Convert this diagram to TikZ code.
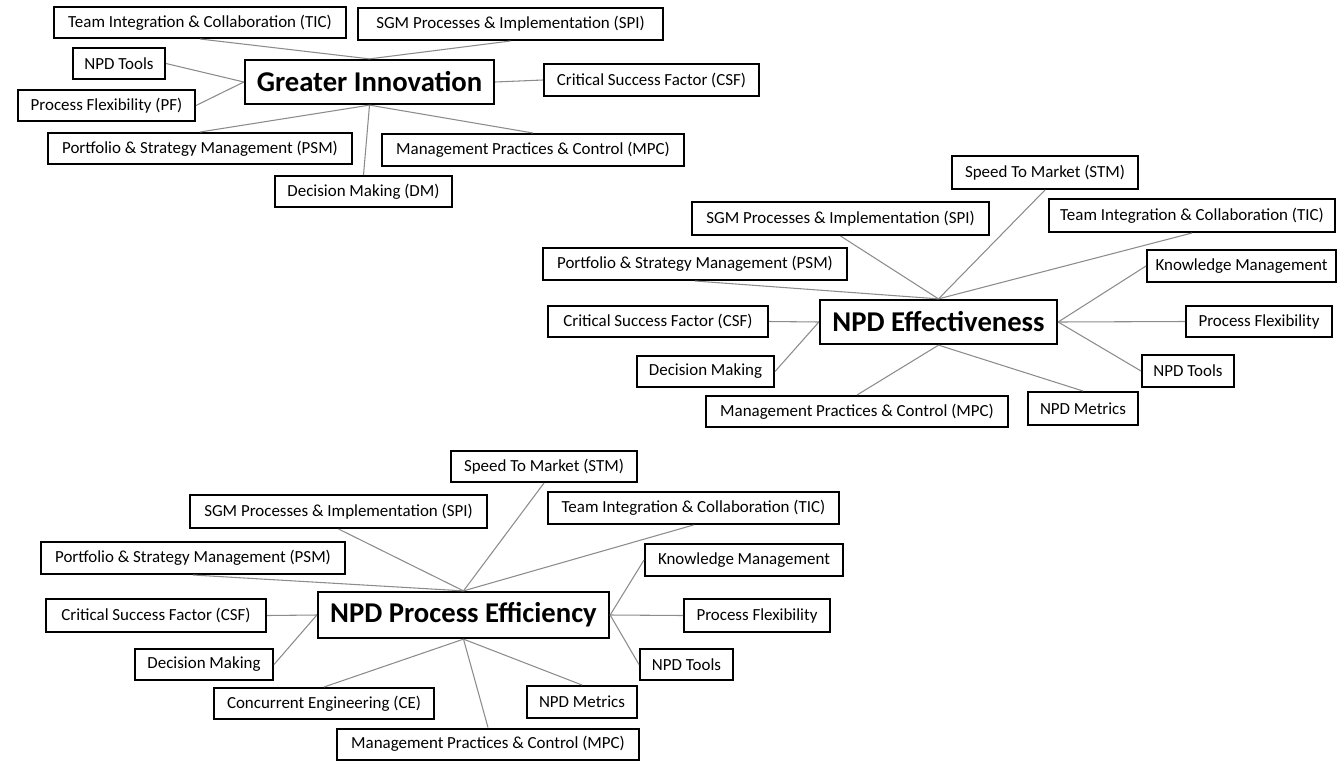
\documentclass[tikz,border=0pt]{standalone}
\usepackage{fontspec}
\setmainfont{Carlito}
\usetikzlibrary{positioning}

\begin{document}
\begin{tikzpicture}[
  x=0.75pt, y=-0.75pt,
  box/.style={draw, line width=1.5pt, inner sep=0pt, align=center,
              font=\fontsize{12.7}{14}\selectfont},
  hub/.style={box, line width=1.7pt, font=\fontsize{21.5}{24}\selectfont\bfseries},
  sz/.style 2 args={minimum width=#1*0.75pt, minimum height=#2*0.75pt},
  link/.style={draw=black!45, line width=0.8pt}
]
\useasboundingbox (0,0) rectangle (1337,760);

% Greater Innovation
\node[hub,sz={249}{44}] (gi)    at (369.5,82)  {Greater Innovation};
\node[box,sz={292}{31}] (tic1)  at (200,22.5)  {Team Integration \& Collaboration (TIC)};
\node[box,sz={305}{32}] (spi1)  at (510.5,24)  {SGM Processes \& Implementation (SPI)};
\node[box,sz={92}{31}]  (tool1) at (119,63.5)  {NPD Tools};
\node[box,sz={177}{31}] (pf1)   at (106.5,105.5) {Process Flexibility (PF)};
\node[box,sz={215}{32}] (csf1)  at (651.5,80)  {Critical Success Factor (CSF)};
\node[box,sz={304}{31}] (psm1)  at (200,148.5) {Portfolio \& Strategy Management (PSM)};
\node[box,sz={302}{32}] (mpc1)  at (533,150)   {Management Practices \& Control (MPC)};
\node[box,sz={177}{31}] (dm1)   at (363.5,191.5) {Decision Making (DM)};
\draw[link](tic1.south)--(gi.north);\draw[link](spi1.south)--(gi.north);
\draw[link](tool1.east)--(gi.west);\draw[link](pf1.east)--(gi.west);
\draw[link](gi.east)--(csf1.west);\draw[link](psm1.north)--(gi.south);
\draw[link](dm1.north)--(gi.south);\draw[link](mpc1.north)--(gi.south);

% NPD Effectiveness
\node[hub,sz={237}{44}] (eff)   at (938.5,322) {NPD Effectiveness};
\node[box,sz={186}{33}] (stm2)  at (1045,172.5) {Speed To Market (STM)};
\node[box,sz={297}{33}] (spi2)  at (840.5,218.5) {SGM Processes \& Implementation (SPI)};
\node[box,sz={286}{33}] (tic2)  at (1192,215.5) {Team Integration \& Collaboration (TIC)};
\node[box,sz={304}{32}] (psm2)  at (695,264)   {Portfolio \& Strategy Management (PSM)};
\node[box,sz={189}{32}] (km2)   at (1241.5,266) {Knowledge Management};
\node[box,sz={220}{31}] (csf2)  at (658,321.5) {Critical Success Factor (CSF)};
\node[box,sz={146}{31}] (pf2)   at (1259,321.5) {Process Flexibility};
\node[box,sz={137}{31}] (dm2)   at (705.5,371.5) {Decision Making};
\node[box,sz={92}{32}]  (tool2) at (1188,371)  {NPD Tools};
\node[box,sz={302}{31}] (mpc2)  at (857,411.5) {Management Practices \& Control (MPC)};
\node[box,sz={110}{33}] (met2)  at (1083,408.5) {NPD Metrics};
\draw[link](stm2.south)--(eff.north);\draw[link](spi2.south)--(eff.north);
\draw[link](tic2.south)--(eff.north);\draw[link](psm2.south)--(eff.north);
\draw[link](km2.west)--(eff.east);\draw[link](pf2.west)--(eff.east);
\draw[link](tool2.west)--(eff.east);\draw[link](csf2.east)--(eff.west);
\draw[link](dm2.east)--(eff.west);\draw[link](mpc2.north)--(eff.south);
\draw[link](met2.north)--(eff.south);

% NPD Process Efficiency
\node[hub,sz={291}{46}] (npe)   at (463.5,615) {NPD Process Efficiency};
\node[box,sz={186}{31}] (stm3)  at (544,466.5) {Speed To Market (STM)};
\node[box,sz={297}{33}] (spi3)  at (338.5,511.5) {SGM Processes \& Implementation (SPI)};
\node[box,sz={291}{32}] (tic3)  at (693.5,508) {Team Integration \& Collaboration (TIC)};
\node[box,sz={304}{32}] (psm3)  at (193,558)   {Portfolio \& Strategy Management (PSM)};
\node[box,sz={198}{32}] (km3)   at (744,560)   {Knowledge Management};
\node[box,sz={220}{33}] (csf3)  at (156,615.5) {Critical Success Factor (CSF)};
\node[box,sz={146}{33}] (pf3)   at (757,615.5) {Process Flexibility};
\node[box,sz={138}{31}] (dm3)   at (204,664.5) {Decision Making};
\node[box,sz={93}{31}]  (tool3) at (686.5,664.5) {NPD Tools};
\node[box,sz={220}{31}] (ce3)   at (324,703.5) {Concurrent Engineering (CE)};
\node[box,sz={110}{32}] (met3)  at (582,702)   {NPD Metrics};
\node[box,sz={302}{31}] (mpc3)  at (488,744)   {Management Practices \& Control (MPC)};
\draw[link](stm3.south)--(npe.north);\draw[link](spi3.south)--(npe.north);
\draw[link](tic3.south)--(npe.north);\draw[link](psm3.south)--(npe.north);
\draw[link](km3.west)--(npe.east);\draw[link](pf3.west)--(npe.east);
\draw[link](tool3.west)--(npe.east);\draw[link](csf3.east)--(npe.west);
\draw[link](dm3.east)--(npe.west);\draw[link](ce3.north)--(npe.south);
\draw[link](met3.north)--(npe.south);\draw[link](mpc3.north)--(npe.south);
\end{tikzpicture}
\end{document}
